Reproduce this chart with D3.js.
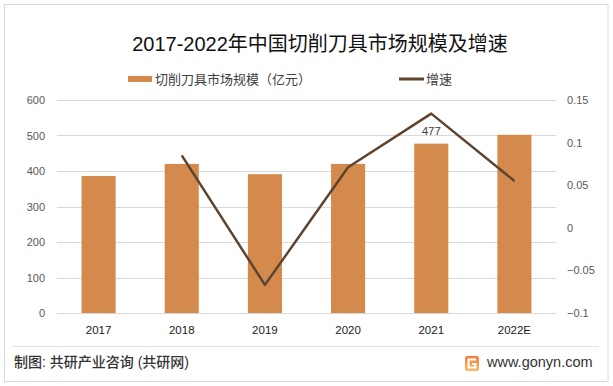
<!DOCTYPE html>
<html>
<head>
<meta charset="utf-8">
<script src="https://cdn.jsdelivr.net/npm/d3@7"></script>
<style>
  body { margin: 0; background: #fff; }
  text { font-family: "Liberation Sans", "Noto Sans CJK SC", sans-serif; }
</style>
</head>
<body>
<div id="chart"></div>
<script>
var svgWidth = 613;
var svgHeight = 386;

// chart data
var years = ["2017", "2018", "2019", "2020", "2021", "2022E"];
var marketSize = [386, 420, 391, 420, 477, 502];
var growthYears = ["2018", "2019", "2020", "2021", "2022E"];
var growthRate = [0.085, -0.067, 0.071, 0.134, 0.055];
var leftTicks = [0, 100, 200, 300, 400, 500, 600];
var rightTicks = [-0.1, -0.05, 0, 0.05, 0.1, 0.15];
var labelYear = "2021";

var margin = { top: 100, right: 57, bottom: 73, left: 57 };
var width = svgWidth - margin.left - margin.right;
var height = svgHeight - margin.top - margin.bottom;

var svg = d3.select("#chart")
  .append("svg")
  .attr("width", svgWidth)
  .attr("height", svgHeight);

// outer frame
svg.append("rect")
  .attr("x", 4.5).attr("y", 4.5)
  .attr("width", 603.5).attr("height", 377)
  .attr("fill", "#fff")
  .attr("stroke", "#d9d9d9");

// title
svg.append("text")
  .attr("x", 320)
  .attr("y", 51)
  .attr("text-anchor", "middle")
  .attr("font-size", "20px")
  .attr("fill", "#111")
  .text("2017-2022年中国切削刀具市场规模及增速");

// legend
svg.append("rect")
  .attr("x", 128).attr("y", 76)
  .attr("width", 24).attr("height", 6)
  .attr("fill", "#D48A4C");
svg.append("text")
  .attr("x", 155).attr("y", 84)
  .attr("font-size", "13px")
  .attr("fill", "#404040")
  .text("切削刀具市场规模（亿元）");
svg.append("line")
  .attr("x1", 399).attr("x2", 424)
  .attr("y1", 79).attr("y2", 79)
  .attr("stroke", "#5E4430")
  .attr("stroke-width", 3);
svg.append("text")
  .attr("x", 426).attr("y", 84)
  .attr("font-size", "13px")
  .attr("fill", "#404040")
  .text("增速");

var chartGroup = svg.append("g")
  .attr("transform", `translate(${margin.left}, ${margin.top})`);

// scales
var xScale = d3.scaleBand()
  .domain(years)
  .range([0, width])
  .paddingInner(0.59)
  .paddingOuter(0.295);

var yLeft = d3.scaleLinear().domain([0, 600]).range([height, 0]);
var yRight = d3.scaleLinear().domain([-0.1, 0.15]).range([height, 0]);

// gridlines
chartGroup.append("g")
  .selectAll("line")
  .data(leftTicks)
  .enter()
  .append("line")
  .attr("x1", 0).attr("x2", width)
  .attr("y1", d => Math.round(yLeft(d)) + 0.5)
  .attr("y2", d => Math.round(yLeft(d)) + 0.5)
  .attr("stroke", "#d9d9d9");

// left axis
var leftAxis = d3.axisLeft(yLeft).tickValues(leftTicks).tickSize(0).tickPadding(12);
var gLeft = chartGroup.append("g").call(leftAxis);
gLeft.select(".domain").remove();
gLeft.selectAll("text")
  .attr("font-size", "11px")
  .attr("fill", "#595959")
  .attr("font-family", "Liberation Sans, sans-serif");

// right axis
var rightAxis = d3.axisRight(yRight).tickValues(rightTicks).tickSize(0).tickPadding(11)
  .tickFormat(d => d3.format("")(+d.toFixed(2)));
var gRight = chartGroup.append("g")
  .attr("transform", `translate(${width}, 0)`)
  .call(rightAxis);
gRight.select(".domain").remove();
gRight.selectAll("text")
  .attr("font-size", "11px")
  .attr("fill", "#595959")
  .attr("font-family", "Liberation Sans, sans-serif");

// bottom axis
var bottomAxis = d3.axisBottom(xScale).tickSize(0).tickPadding(13);
var gBottom = chartGroup.append("g")
  .attr("transform", `translate(0, ${height})`)
  .call(bottomAxis);
gBottom.select(".domain").remove();
gBottom.selectAll("text")
  .attr("font-size", "11.5px")
  .attr("fill", "#1a1a1a")
  .attr("font-family", "Liberation Sans, sans-serif");

// bars
chartGroup.selectAll("rect.bar")
  .data(marketSize)
  .enter()
  .append("rect")
  .classed("bar", true)
  .attr("x", (d, i) => xScale(years[i]))
  .attr("y", d => yLeft(d))
  .attr("width", xScale.bandwidth())
  .attr("height", d => height - yLeft(d))
  .attr("fill", "#D48A4C");

// growth line
var line = d3.line()
  .x((d, i) => xScale(growthYears[i]) + xScale.bandwidth() / 2)
  .y(d => yRight(d));

chartGroup.append("path")
  .datum(growthRate)
  .attr("d", line)
  .attr("fill", "none")
  .attr("stroke", "#5E4430")
  .attr("stroke-width", 2.5)
  .attr("stroke-linejoin", "round");

// data label
var li = years.indexOf(labelYear);
chartGroup.append("text")
  .attr("x", xScale(labelYear) + xScale.bandwidth() / 2)
  .attr("y", yLeft(marketSize[li]) - 9)
  .attr("text-anchor", "middle")
  .attr("font-size", "11.5px")
  .attr("fill", "#404040")
  .attr("font-family", "Liberation Sans, sans-serif")
  .text(marketSize[li]);

// footer
svg.append("line")
  .attr("x1", 12).attr("x2", 599)
  .attr("y1", 346.5).attr("y2", 346.5)
  .attr("stroke", "#e3e3e3");

svg.append("text")
  .attr("x", 14).attr("y", 367)
  .attr("font-size", "14px")
  .attr("fill", "#333")
  .attr("font-family", "Noto Sans CJK SC, sans-serif")
  .attr("font-weight", 500)
  .text("制图: 共研产业咨询 (共研网)");

// logo
var logo = svg.append("g").attr("transform", "translate(465, 356)");
var grad = svg.append("defs").append("linearGradient")
  .attr("id", "lg").attr("x1", 0).attr("y1", 0).attr("x2", 0).attr("y2", 1);
grad.append("stop").attr("offset", "0%").attr("stop-color", "#F47C3C");
grad.append("stop").attr("offset", "100%").attr("stop-color", "#F9B867");
logo.append("rect")
  .attr("width", 14).attr("height", 15).attr("rx", 2)
  .attr("fill", "url(#lg)");
logo.append("path")
  .attr("d", "M11,3.5 H3.5 V11.5 H10.5 V8 H7")
  .attr("fill", "none")
  .attr("stroke", "#fff")
  .attr("stroke-width", 2);

svg.append("text")
  .attr("x", 487).attr("y", 367)
  .attr("font-size", "14.5px")
  .attr("fill", "#333")
  .attr("font-family", "Noto Sans, sans-serif")
  .text("www.gonyn.com");
</script>
</body>
</html>
